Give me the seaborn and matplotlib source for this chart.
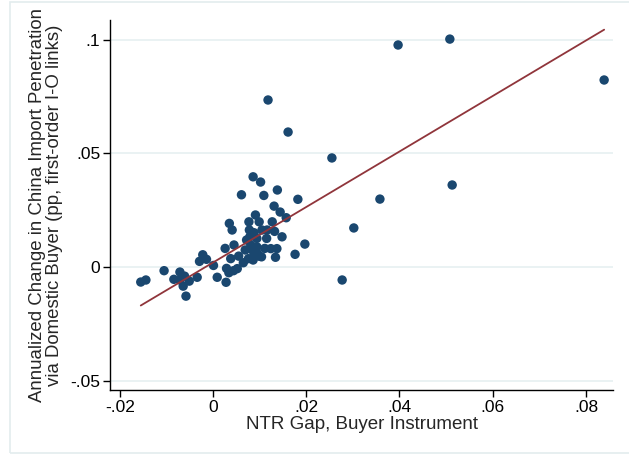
import numpy as np
import pandas as pd
import matplotlib.pyplot as plt
import seaborn as sns
from matplotlib.patches import Rectangle

# NTR gap (buyer instrument) and annualized change in import penetration
ntr_gap = [
    0.0397, 0.0508, 0.0839, 0.0118, 0.0161, 0.0255, 0.0513, 0.0358, 0.0302, 0.0277,
    0.0182, 0.0197, 0.0176,
    -0.0155, -0.0144, -0.0105, -0.0084, -0.0071, -0.0061, -0.0051, -0.0064, -0.0058, -0.0071,
    -0.0034, -0.0029, -0.0022, -0.0014, 0.0001, 0.0009, 0.0026, 0.0028, 0.0029, 0.0034,
    0.0038, 0.0044, 0.0045, 0.0052, 0.0055, 0.0061, 0.0035, 0.0041, 0.0065, 0.0072,
    0.0077, 0.0078, 0.0081, 0.0084, 0.0086, 0.0088, 0.0091, 0.0094, 0.0095, 0.0099,
    0.0102, 0.0109, 0.0105, 0.0099, 0.0115, 0.0111, 0.0116, 0.0127, 0.0131, 0.0138,
    0.0132, 0.0124, 0.0137, 0.0134, 0.0144, 0.0148, 0.0157,
    0.0069, 0.0076, 0.0086, 0.0094, 0.0079, 0.0088, 0.0104,
]
import_pen = [
    0.0977, 0.1003, 0.0823, 0.0735, 0.0594, 0.0480, 0.0361, 0.0299, 0.0172, -0.0057,
    0.0298, 0.0101, 0.0056,
    -0.0066, -0.0057, -0.0016, -0.0054, -0.0022, -0.0040, -0.0062, -0.0084, -0.0128, -0.0057,
    -0.0045, 0.0025, 0.0054, 0.0034, 0.0007, -0.0045, 0.0082, -0.0067, -0.0006, -0.0025,
    0.0037, -0.0016, 0.0097, -0.0007, 0.0048, 0.0318, 0.0192, 0.0163, 0.0019, 0.0119,
    0.0199, 0.0163, 0.0097, 0.0075, 0.0397, 0.0048, 0.0229, 0.0126, 0.0060, 0.0199,
    0.0374, 0.0315, 0.0163, 0.0048, 0.0126, 0.0082, 0.0163, 0.0199, 0.0268, 0.0339,
    0.0157, 0.0081, 0.0081, 0.0043, 0.0242, 0.0133, 0.0217,
    0.0075, 0.0037, 0.0031, 0.0089, 0.0133, 0.0151, 0.0045,
]

# linear fit as drawn on the chart
fit_intercept = 0.0020
fit_slope = 1.221

x_ticks = [-0.02, 0, 0.02, 0.04, 0.06, 0.08]
x_labels = ['-.02', '0', '.02', '.04', '.06', '.08']
y_ticks = [-0.05, 0, 0.05, 0.1]
y_labels = ['-.05', '0', '.05', '.1']

df = pd.DataFrame({'ntr': ntr_gap, 'pen': import_pen})
fit_x = np.array([df['ntr'].min(), df['ntr'].max()])
fit_df = pd.DataFrame({'ntr': fit_x, 'pen': fit_intercept + fit_slope * fit_x})

sns.set_style('white')
plt.rcParams['font.family'] = ['Liberation Sans', 'DejaVu Sans']

fig = plt.figure(figsize=(6.29, 4.55), dpi=100)
ax = fig.add_axes([110 / 629, 65 / 455, 503 / 629, 370 / 455])

# light outer frame like the Stata graph region
fig.patches.append(Rectangle((10 / 629, 2 / 455), 1.2, 451 / 455, transform=fig.transFigure,
                             fill=False, edgecolor='#e3ecee', linewidth=1.2))

for yt in y_ticks:
    ax.axhline(yt, color='#eaf2f3', linewidth=1.4, zorder=0)

sns.scatterplot(data=df, x='ntr', y='pen', ax=ax, color='#1a476f', s=46,
                edgecolor='none', zorder=3)
sns.lineplot(data=fit_df, x='ntr', y='pen', ax=ax, color='#90353b', linewidth=1.3,
             zorder=4)

ax.set_xlim(-0.0221, 0.0858)
ax.set_ylim(-0.0541, 0.1087)
ax.set_xticks(x_ticks, x_labels)
ax.set_yticks(y_ticks, y_labels)
ax.tick_params(axis='both', direction='out', length=5, width=1, labelsize=12.5,
               colors='black', left=True, bottom=True, pad=2)
for side in ['top', 'right']:
    ax.spines[side].set_visible(False)
for side in ['left', 'bottom']:
    ax.spines[side].set_color('black')
    ax.spines[side].set_linewidth(1)

ax.set_xlabel('NTR Gap, Buyer Instrument', fontsize=13.5, labelpad=1)
ax.set_ylabel('Annualized Change in China Import Penetration\n'
              'via Domestic Buyer (pp, first-order I-O links)', fontsize=13.4, labelpad=5,
              linespacing=1.0)

fig.savefig('out.png', dpi=100)
